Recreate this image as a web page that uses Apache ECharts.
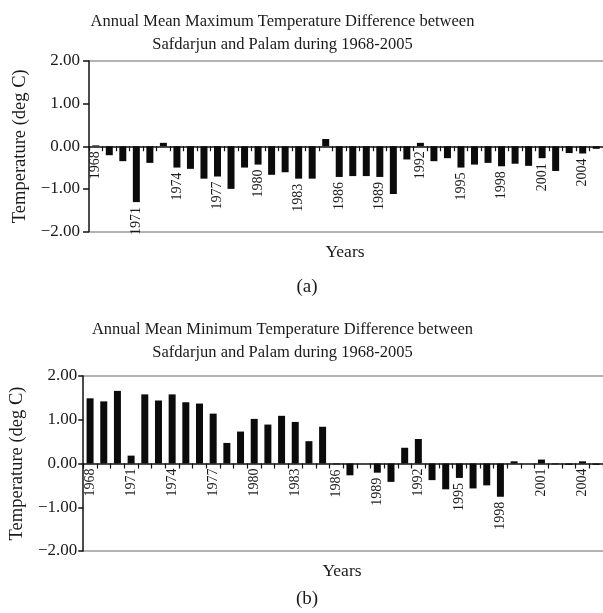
<!DOCTYPE html>
<html>
<head>
<meta charset="utf-8">
<script src="https://cdn.jsdelivr.net/npm/echarts@6/dist/echarts.min.js"></script>
<style>
html,body{margin:0;padding:0;background:#fff;}
#chart{width:603px;height:613px;}
</style>
</head>
<body>
<div id="chart"></div>
<script>
// ---- data ----
var years = ['1968','1969','1970','1971','1972','1973','1974','1975','1976','1977','1978','1979','1980','1981','1982','1983','1984','1985','1986','1987','1988','1989','1990','1991','1992','1993','1994','1995','1996','1997','1998','1999','2000','2001','2002','2003','2004','2005'];
var yearTickLabels = ['1968','','','1971','','','1974','','','1977','','','1980','','','1983','','','1986','','','1989','','','1992','','','1995','','','1998','','','2001','','','2004',''];
var maxTempDiff = [0.02,-0.21,-0.35,-1.31,-0.39,0.08,-0.50,-0.53,-0.76,-0.71,-1.00,-0.50,-0.43,-0.67,-0.61,-0.76,-0.76,0.17,
                   -0.72,-0.70,-0.70,-0.72,-1.12,-0.31,0.08,-0.35,-0.28,-0.50,-0.43,-0.39,-0.47,-0.41,-0.46,-0.28,-0.58,-0.16,-0.17,-0.06];
var minTempDiff = [1.49,1.42,1.66,0.18,1.58,1.44,1.58,1.40,1.37,1.14,0.47,0.73,1.02,0.89,1.09,0.95,0.51,0.84,
                   -0.02,-0.27,0.00,-0.21,-0.42,0.36,0.56,-0.38,-0.59,-0.33,-0.57,-0.50,-0.76,0.05,0.00,0.09,-0.02,-0.03,0.05,-0.03];
var yBounds = [2, -2];
var titleA = 'Annual Mean Maximum Temperature Difference between\nSafdarjun and Palam during 1968-2005';
var titleB = 'Annual Mean Minimum Temperature Difference between\nSafdarjun and Palam during 1968-2005';
var xName = 'Years';
var yName = 'Temperature (deg C)';

// ---- chart ----
var FONT = '"Liberation Serif", "Times New Roman", serif';
var TXT = '#1a1a1a';
var chart = echarts.init(document.getElementById('chart'), null, {renderer: 'canvas'});

function pairs(vals){ return vals.map(function(v,i){ return [i, v]; }); }

function yAxisCfg(idx, margin, tick, gap){
  return {
    type: 'value', gridIndex: idx, min: -2, max: 2, interval: 1,
    name: yName, nameLocation: 'middle', nameGap: gap,
    nameTextStyle: {fontFamily: FONT, fontSize: 18.5, color: TXT},
    axisLine: {show: true, lineStyle: {color: '#111', width: 1.5}},
    axisTick: {show: true, length: tick, lineStyle: {color: '#111', width: 1.5}},
    axisLabel: {margin: margin, fontFamily: FONT, fontSize: 17, color: TXT,
      formatter: function(v){ return (v < 0 ? '\u2212' : '') + Math.abs(v).toFixed(2); }},
    splitLine: {show: false},
    z: 5
  };
}
function xAxisCfg(idx){
  return {
    type: 'category', gridIndex: idx, data: years, boundaryGap: true,
    axisLine: {onZero: true, lineStyle: {color: '#111', width: 1.5}},
    axisTick: {show: true, length: 5, interval: 0, lineStyle: {color: '#111', width: 1.2}},
    axisLabel: {show: false},
    splitLine: {show: false}
  };
}
function labelSeries(idx, vals){
  return {
    type: 'custom', xAxisIndex: idx, yAxisIndex: idx, z: 10, clip: false,
    data: pairs(vals),
    encode: {x: 0, y: 1},
    silent: true,
    renderItem: function(params, api){
      var i = api.value(0);
      var txt = yearTickLabels[i];
      if (!txt) return null;
      var v = api.value(1);
      var p = api.coord([i, Math.min(v, 0)]);
      return {
        type: 'text', x: p[0], y: p[1] + 5, rotation: Math.PI / 2,
        style: {text: txt, font: '14px ' + FONT, fill: TXT, align: 'right', verticalAlign: 'middle'}
      };
    }
  };
}
function barSeries(idx, vals){
  return {
    type: 'bar', xAxisIndex: idx, yAxisIndex: idx, data: vals, barWidth: 7,
    itemStyle: {color: '#0b0b0b'}, silent: true,
    markLine: {
      silent: true, symbol: 'none', animation: false,
      label: {show: false},
      lineStyle: {color: '#9a9a9a', type: 'solid', width: 1.5},
      data: yBounds.map(function(b){ return {yAxis: b}; })
    }
  };
}

var tStyle = {fontFamily: FONT, fontSize: 16.5, fontWeight: 'normal', color: TXT, lineHeight: 23};
var option = {
  backgroundColor: '#ffffff',
  animation: false,
  title: [
    {text: titleA, left: 282.5, top: 10.5, textAlign: 'center', padding: 0, textStyle: tStyle},
    {text: titleB, left: 282.5, top: 318, textAlign: 'center', padding: 0, textStyle: tStyle},
    {text: xName, left: 345, top: 243, textAlign: 'center', padding: 0, textStyle: {fontFamily: FONT, fontSize: 17.5, fontWeight: 'normal', color: TXT}},
    {text: xName, left: 342, top: 562, textAlign: 'center', padding: 0, textStyle: {fontFamily: FONT, fontSize: 17.5, fontWeight: 'normal', color: TXT}},
    {text: '(a)', left: 307, top: 278, textAlign: 'center', padding: 0, textStyle: {fontFamily: FONT, fontSize: 19, fontWeight: 'normal', color: TXT}},
    {text: '(b)', left: 307, top: 590, textAlign: 'center', padding: 0, textStyle: {fontFamily: FONT, fontSize: 19, fontWeight: 'normal', color: TXT}}
  ],
  grid: [
    {left: 89, top: 61, width: 516, height: 170.5, containLabel: false},
    {left: 78, top: 376, width: 528, height: 175, containLabel: false}
  ],
  xAxis: [xAxisCfg(0), xAxisCfg(1)],
  yAxis: [yAxisCfg(0, 9, 6, 55), yAxisCfg(1, 6, 5, 42)],
  series: [barSeries(0, maxTempDiff), barSeries(1, minTempDiff), labelSeries(0, maxTempDiff), labelSeries(1, minTempDiff)]
};
chart.setOption(option);
</script>
</body>
</html>
